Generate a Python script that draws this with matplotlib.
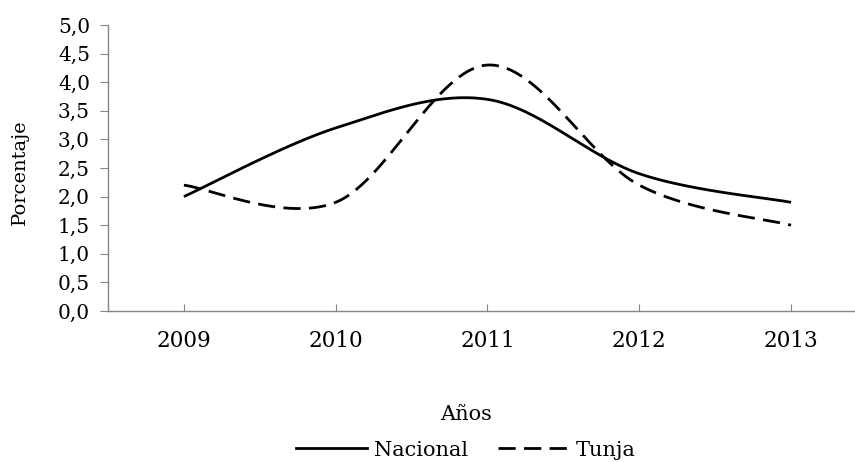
import numpy as np
import matplotlib
matplotlib.use("Agg")
import matplotlib.pyplot as plt
from matplotlib.lines import Line2D

years = [2009, 2010, 2011, 2012, 2013]
nacional = [2.0, 3.2, 3.7, 2.4, 1.9]
tunja = [2.2, 1.9, 4.3, 2.2, 1.5]
yticks = [0.0, 0.5, 1.0, 1.5, 2.0, 2.5, 3.0, 3.5, 4.0, 4.5, 5.0]


def smooth(xs, ys, n=60):
    # Excel-style smoothed line: cubic Bezier through the points
    p = np.column_stack([xs, ys]).astype(float)
    ext = np.vstack([p[0], p, p[-1]])
    out = []
    t = np.linspace(0, 1, n)[:, None]
    for i in range(len(p) - 1):
        p0, p3 = ext[i + 1], ext[i + 2]
        c1 = p0 + (ext[i + 2] - ext[i]) / 6
        c2 = p3 - (ext[i + 3] - ext[i + 1]) / 6
        seg = ((1 - t) ** 3) * p0 + 3 * ((1 - t) ** 2) * t * c1 \
            + 3 * (1 - t) * t ** 2 * c2 + t ** 3 * p3
        out.append(seg if i == 0 else seg[1:])
    out = np.vstack(out)
    return out[:, 0], out[:, 1]


serif = "DejaVu Serif"
lw = 2.0
dash = (6.2, 3)
fig = plt.figure(figsize=(8.55, 4.62), dpi=100)
ax = fig.add_axes([108 / 855, 1 - 311 / 462, 1 - 108 / 855, (311 - 25) / 462])

x1, y1 = smooth(years, nacional)
x2, y2 = smooth(years, tunja)
ax.plot(x1, y1, color="black", lw=lw, solid_capstyle="butt")
ax.plot(x2, y2, color="black", lw=lw, dashes=dash, dash_capstyle="butt")

ax.set_xlim(2008.5, 2009 + (855 - 183) / 152)
ax.set_ylim(0, 5)
ax.set_yticks(yticks)
ax.set_yticklabels([f"{v:.1f}".replace(".", ",") for v in yticks],
                   fontfamily=serif, fontsize=14.5)
ax.set_xticks(years)
ax.set_xticklabels([str(y) for y in years], fontfamily=serif, fontsize=15.5)

for s in ["top", "right"]:
    ax.spines[s].set_visible(False)
for s in ["left", "bottom"]:
    ax.spines[s].set_color("#868686")
    ax.spines[s].set_linewidth(1)
ax.tick_params(axis="y", direction="out", length=6, color="#868686", pad=7)
ax.tick_params(axis="x", direction="in", length=5, color="#868686", pad=14)

fig.text(20 / 855, 1 - 172 / 462, "Porcentaje", rotation=90, ha="center",
         va="center", fontfamily=serif, fontsize=14)
fig.text(466 / 855, 1 - 415 / 462, "Años", ha="center", va="center",
         fontfamily=serif, fontsize=15)

handles = [Line2D([], [], color="black", lw=lw),
           Line2D([], [], color="black", lw=lw, dashes=dash)]
fig.legend(handles, ["Nacional", "Tunja"], loc="center",
           bbox_to_anchor=(466 / 855, 1 - 450 / 462), ncol=2, frameon=False,
           prop={"family": serif, "size": 15}, handlelength=3.4,
           handletextpad=0.35, columnspacing=1.4, borderpad=0)

fig.savefig("out.png", dpi=100)
